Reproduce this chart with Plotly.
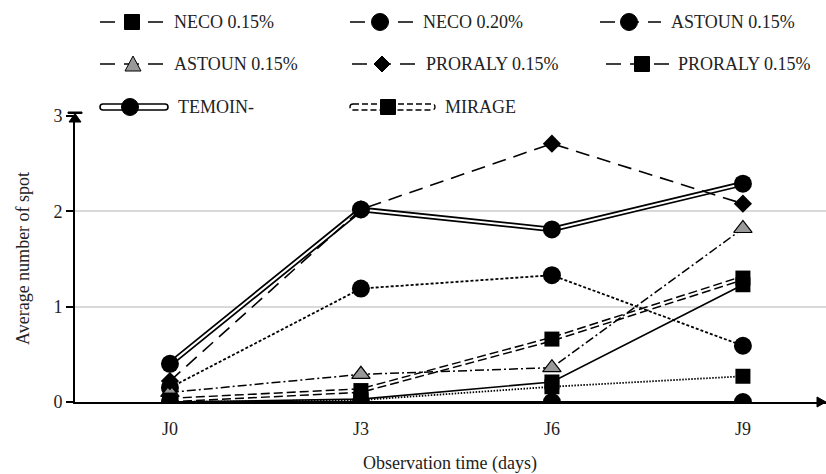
import plotly.graph_objects as go

# ---------------- data ----------------
categories = ["J0", "J3", "J6", "J9"]
neco_015 = [0.0, 0.03, 0.21, 1.23]
neco_020 = [0.15, 1.19, 1.33, 0.59]
astoun_015_circle = [0.0, 0.0, 0.0, 0.0]
astoun_015_triangle = [0.1, 0.29, 0.36, 1.82]
proraly_015_diamond = [0.22, 2.02, 2.71, 2.08]
proraly_015_square = [0.0, 0.02, 0.16, 0.27]
temoin = [0.40, 2.02, 1.81, 2.29]
mirage = [0.02, 0.12, 0.66, 1.30]
y_ticks = [0, 1, 2, 3]

FONT = "Liberation Serif"
W, H = 826, 474
L, R, T, B = 75, 0, 116, 72
PW, PH = W - L - R, H - T - B


def px(x):
    return (x - L) / PW


def py(y):
    return (H - B - y) / PH


fig = go.Figure()

fig.add_trace(go.Scatter(x=categories, y=temoin, mode="lines",
                         line=dict(color="black", width=5.5), showlegend=False, hoverinfo="skip"))
fig.add_trace(go.Scatter(x=categories, y=temoin, mode="lines",
                         line=dict(color="white", width=2), showlegend=False, hoverinfo="skip"))
fig.add_trace(go.Scatter(x=categories, y=mirage, mode="lines",
                         line=dict(color="black", width=5, dash="9px,4px"), showlegend=False, hoverinfo="skip"))
fig.add_trace(go.Scatter(x=categories, y=mirage, mode="lines",
                         line=dict(color="white", width=2), showlegend=False, hoverinfo="skip"))

series = [
    ("NECO 0.15%", neco_015, dict(color="black", width=1.6, dash="solid"),
     dict(symbol="square", size=15, color="black")),
    ("NECO 0.20%", neco_020, dict(color="black", width=1.8, dash="3px,2px"),
     dict(symbol="circle", size=18, color="black")),
    ("ASTOUN 0.15%", astoun_015_circle, dict(color="black", width=2, dash="solid"),
     dict(symbol="circle", size=18, color="black")),
    ("ASTOUN 0.15% ", astoun_015_triangle, dict(color="black", width=1.5, dash="9px,3px,2px,3px"),
     dict(symbol="triangle-up", size=16, color="#999999", line=dict(color="black", width=1.2))),
    ("PRORALY 0.15%", proraly_015_diamond, dict(color="black", width=1.6, dash="14px,8px"),
     dict(symbol="diamond", size=14, color="black")),
    ("PRORALY 0.15% ", proraly_015_square, dict(color="black", width=1.8, dash="1.5px,1.5px"),
     dict(symbol="square", size=15, color="black")),
]

for name, vals, ln, mk in series:
    fig.add_trace(go.Scatter(x=categories, y=vals, mode="lines+markers", name=name,
                             line=ln, marker=mk, showlegend=False))

fig.add_trace(go.Scatter(x=categories, y=mirage, mode="markers", name="MIRAGE",
                         marker=dict(symbol="square", size=15, color="black"), showlegend=False))
fig.add_trace(go.Scatter(x=categories, y=temoin, mode="markers", name="TEMOIN-",
                         marker=dict(symbol="circle", size=18, color="black"), showlegend=False))

shapes = []
annotations = []

# axis arrows
shapes.append(dict(type="path", xref="paper", yref="paper", xsizemode="pixel", ysizemode="pixel",
                   xanchor=px(75), yanchor=py(112),
                   path="M -7,0 L 7,0 L 7,-1.5 L 0,-1.5 L 6,-10 L -6,-10 L 0,-1.5 L -7,-1.5 Z",
                   fillcolor="black", line=dict(color="black", width=1)))
shapes.append(dict(type="path", xref="paper", yref="paper", xsizemode="pixel", ysizemode="pixel",
                   xanchor=px(826), yanchor=py(402),
                   path="M 0,0 L -9,5 L -9,-5 Z", fillcolor="black", line=dict(color="black", width=1)))

# ---------------- custom legend ----------------
rows = [22, 64, 107]


def marker_shape(kind, cx, cy):
    base = dict(xref="paper", yref="paper", xsizemode="pixel", ysizemode="pixel",
                xanchor=px(cx), yanchor=py(cy), line=dict(color="black", width=1))
    if kind == "circle":
        return dict(type="circle", x0=-8.5, x1=8.5, y0=-8.5, y1=8.5, fillcolor="black", **base)
    if kind == "square":
        return dict(type="rect", x0=-7.5, x1=7.5, y0=-7.5, y1=7.5, fillcolor="black", **base)
    if kind == "diamond":
        return dict(type="path", path="M 0,8 L 8,0 L 0,-8 L -8,0 Z", fillcolor="black", **base)
    if kind == "triangle":
        return dict(type="path", path="M -8,-7 L 8,-7 L 0,8 Z", fillcolor="#999999", **base)


legend_items = [
    ("NECO 0.15%", "square", 100, 132, 163, 172, 0),
    ("NECO 0.20%", "circle", 350, 380, 413, 421, 0),
    ("ASTOUN 0.15%", "circle", 600, 629, 661, 669, 0),
    ("ASTOUN 0.15%", "triangle", 100, 133, 163, 172, 1),
    ("PRORALY 0.15%", "diamond", 352, 382, 415, 424, 1),
    ("PRORALY 0.15%", "square", 606, 642, 670, 676, 1),
]

for text, mk, x0, mx, x1, tx, r in legend_items:
    cy = rows[r]
    shapes.append(dict(type="line", xref="paper", yref="paper",
                       x0=px(x0), x1=px(x1), y0=py(cy), y1=py(cy),
                       line=dict(color="black", width=1.6, dash="15px,9px")))
    shapes.append(marker_shape(mk, mx, cy))
    annotations.append(dict(text=text, x=px(tx), y=py(cy), xref="paper", yref="paper",
                            xanchor="left", yanchor="middle", showarrow=False,
                            font=dict(family=FONT, size=18, color="#222222")))

cy = rows[2]
capsule = "M 3,3 L 65,3 Q 68,3 68,0 Q 68,-3 65,-3 L 3,-3 Q 0,-3 0,0 Q 0,3 3,3 Z"
shapes.append(dict(type="path", xref="paper", yref="paper", xsizemode="pixel", ysizemode="pixel",
                   xanchor=px(100), yanchor=py(cy), path=capsule, fillcolor="white",
                   line=dict(color="black", width=1.6)))
shapes.append(marker_shape("circle", 130, cy))
annotations.append(dict(text="TEMOIN-", x=px(176), y=py(cy), xref="paper", yref="paper",
                        xanchor="left", yanchor="middle", showarrow=False,
                        font=dict(family=FONT, size=18, color="#222222")))
capsule2 = "M 3,3 L 82,3 Q 85,3 85,0 Q 85,-3 82,-3 L 3,-3 Q 0,-3 0,0 Q 0,3 3,3 Z"
shapes.append(dict(type="path", xref="paper", yref="paper", xsizemode="pixel", ysizemode="pixel",
                   xanchor=px(350), yanchor=py(cy), path=capsule2, fillcolor="white",
                   line=dict(color="black", width=1.4, dash="6px,3px")))
shapes.append(marker_shape("square", 388, cy))
annotations.append(dict(text="MIRAGE", x=px(443), y=py(cy), xref="paper", yref="paper",
                        xanchor="left", yanchor="middle", showarrow=False,
                        font=dict(family=FONT, size=18, color="#222222")))

annotations.append(dict(text="Observation time (days)", x=px(450), y=py(464), xref="paper", yref="paper",
                        xanchor="center", yanchor="middle", showarrow=False,
                        font=dict(family=FONT, size=18, color="#222222")))
annotations.append(dict(text="Average number of spot", x=px(23), y=py(259), xref="paper", yref="paper",
                        xanchor="center", yanchor="middle", showarrow=False, textangle=-90,
                        font=dict(family=FONT, size=18, color="#222222")))

fig.update_layout(
    width=W, height=H,
    margin=dict(l=L, r=R, t=T, b=B, pad=0),
    paper_bgcolor="white", plot_bgcolor="white",
    showlegend=False,
    shapes=shapes, annotations=annotations,
    xaxis=dict(type="category", categoryorder="array", categoryarray=categories,
               range=[-0.497, 3.435], showgrid=False, zeroline=False,
               showline=True, linecolor="black", linewidth=2,
               ticks="", ticklabelstandoff=9,
               tickfont=dict(family=FONT, size=18, color="#222222")),
    yaxis=dict(range=[0, 3], tickvals=y_ticks, showgrid=True, gridcolor="#d9d9d9", gridwidth=1.5,
               zeroline=False, showline=True, linecolor="black", linewidth=2,
               ticks="outside", ticklen=7, tickwidth=2, tickcolor="black",
               tickfont=dict(family=FONT, size=18, color="#222222")),
)

fig.write_html("out.html", config={"displayModeBar": False},
               post_script="document.body.style.margin='0px';document.body.style.overflow='hidden';")
